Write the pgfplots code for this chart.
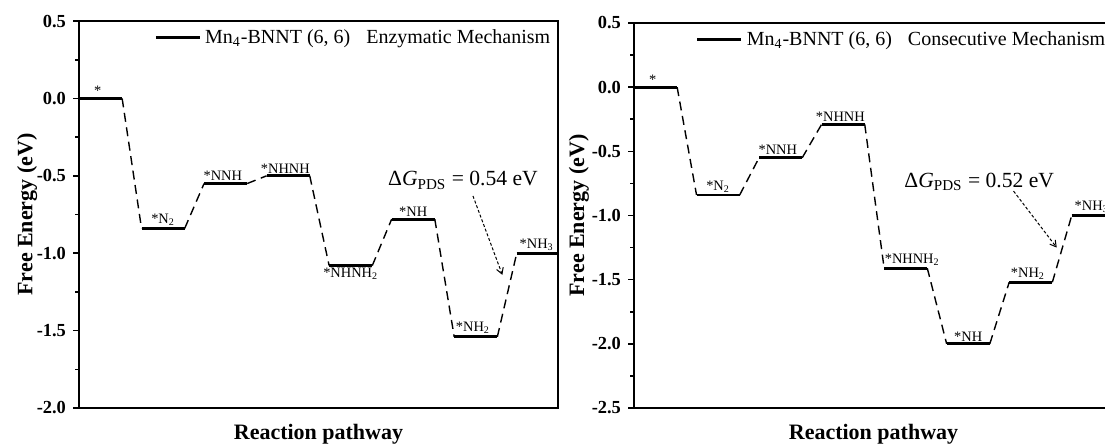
\documentclass[border=0pt]{standalone}
\usepackage{fontspec}
\setmainfont{Liberation Serif}
\usepackage{pgfplots}
\pgfplotsset{compat=1.18}
\usetikzlibrary{arrows.meta}
\begin{document}
\begin{tikzpicture}
\tikzset{
  lab/.style={font=\fontsize{7.2}{7.2}\selectfont, inner sep=1.2pt},
  arr/.style={line width=0.5pt, dash pattern=on 1.5pt off 1pt, -{Straight Barb[length=3pt,width=3.5pt]}},
}
\pgfplotsset{
  energy/.style={
    scale only axis, width=239.5pt,
    xmin=0, xmax=7.66,
    xtick=\empty,
    axis line style={line width=1pt},
    minor y tick num=1,
    tick align=outside,
    ytick pos=left,
    major tick length=3pt, minor tick length=2pt,
    every tick/.style={line width=0.8pt, black},
    yticklabel style={/pgf/number format/.cd, fixed, fixed zerofill, precision=1, assume math mode=true, /tikz/.cd, font=\fontsize{9.2}{9.2}\selectfont\bfseries},
    label style={font=\fontsize{11}{11}\selectfont\bfseries},
    xlabel={Reaction pathway},
    ylabel={Free Energy (eV)},
    xlabel style={at={(axis description cs:0.5,0)}, anchor=center, yshift=-13pt},
    legend style={draw=none, fill=none, at={(0.997,0.995)}, anchor=north east, font=\fontsize{10}{10}\selectfont, inner sep=1pt},
    legend image code/.code={\draw[line width=1.3pt] (0pt,0pt) -- (22pt,0pt);},
    legend cell align=left,
  },
  lvl/.style={black, line width=1.4pt, unbounded coords=jump},
  con/.style={black, line width=0.7pt, dash pattern=on 4.5pt off 2.8pt, unbounded coords=jump, forget plot},
}
% ---------------- left panel: enzymatic ----------------
\begin{axis}[energy, at={(39.5pt,19.5pt)}, anchor=south west, height=193.5pt,
  ymin=-2, ymax=0.5, ytick={-2,-1.5,-1,-0.5,0,0.5},
  ylabel style={at={(axis description cs:-0.108,0.5)}, anchor=center}]
\addplot[lvl] coordinates {
 (0,0) (0.69,0) (0.8,nan)
 (1,-0.84) (1.69,-0.84) (1.8,nan)
 (2,-0.55) (2.69,-0.55) (2.8,nan)
 (3,-0.50) (3.69,-0.50) (3.8,nan)
 (4,-1.08) (4.69,-1.08) (4.8,nan)
 (5,-0.78) (5.69,-0.78) (5.8,nan)
 (6,-1.54) (6.69,-1.54) (6.8,nan)
 (7,-1.00) (7.69,-1.00)};
\addlegendentry{Mn\textsubscript{4}-BNNT (6, 6)\hspace{0.8em}Enzymatic Mechanism}
\addplot[con] coordinates {
 (0.69,0) (1,-0.84) (1.2,nan)
 (1.69,-0.84) (2,-0.55) (2.2,nan)
 (2.69,-0.55) (3,-0.50) (3.2,nan)
 (3.69,-0.50) (4,-1.08) (4.2,nan)
 (4.69,-1.08) (5,-0.78) (5.2,nan)
 (5.69,-0.78) (6,-1.54) (6.2,nan)
 (6.69,-1.54) (7,-1.00)};
\node[lab,above] at (axis cs:0.30,0) {*};
\node[lab,above] at (axis cs:1.345,-0.84) {*N\textsubscript{2}};
\node[lab,above] at (axis cs:2.30,-0.55) {*NNH};
\node[lab,above] at (axis cs:3.30,-0.50) {*NHNH};
\node[lab,below] at (axis cs:4.345,-1.08) {*NHNH\textsubscript{2}};
\node[lab,above] at (axis cs:5.345,-0.78) {*NH};
\node[lab,above] at (axis cs:6.30,-1.54) {*NH\textsubscript{2}};
\node[lab,above] at (axis cs:7.32,-1.00) {*NH\textsubscript{3}};
\node[font=\fontsize{10.8}{10.8}\selectfont] at (axis cs:6.14,-0.53) {Δ\textit{G}\textsubscript{PDS} = 0.54 eV};
\draw[arr] (axis cs:6.30,-0.63) -- (axis cs:6.77,-1.14);
\end{axis}
% ---------------- right panel: consecutive ----------------
\begin{axis}[energy, at={(317pt,19.5pt)}, anchor=south west, height=192.5pt,
  ymin=-2.5, ymax=0.5, ytick={-2.5,-2,-1.5,-1,-0.5,0,0.5},
  ylabel style={at={(axis description cs:-0.115,0.5)}, anchor=center}]
\addplot[lvl] coordinates {
 (0,0) (0.69,0) (0.8,nan)
 (1,-0.84) (1.69,-0.84) (1.8,nan)
 (2,-0.55) (2.69,-0.55) (2.8,nan)
 (3,-0.29) (3.69,-0.29) (3.8,nan)
 (4,-1.41) (4.69,-1.41) (4.8,nan)
 (5,-2.00) (5.69,-2.00) (5.8,nan)
 (6,-1.52) (6.69,-1.52) (6.8,nan)
 (7,-1.00) (7.69,-1.00)};
\addlegendentry{Mn\textsubscript{4}-BNNT (6, 6)\hspace{0.8em}Consecutive Mechanism}
\addplot[con] coordinates {
 (0.69,0) (1,-0.84) (1.2,nan)
 (1.69,-0.84) (2,-0.55) (2.2,nan)
 (2.69,-0.55) (3,-0.29) (3.2,nan)
 (3.69,-0.29) (4,-1.41) (4.2,nan)
 (4.69,-1.41) (5,-2.00) (5.2,nan)
 (5.69,-2.00) (6,-1.52) (6.2,nan)
 (6.69,-1.52) (7,-1.00)};
\node[lab,above] at (axis cs:0.30,0) {*};
\node[lab,above] at (axis cs:1.345,-0.84) {*N\textsubscript{2}};
\node[lab,above] at (axis cs:2.30,-0.55) {*NNH};
\node[lab,above] at (axis cs:3.30,-0.29) {*NHNH};
\node[lab,above] at (axis cs:4.45,-1.41) {*NHNH\textsubscript{2}};
\node[lab,above] at (axis cs:5.345,-2.00) {*NH};
\node[lab,above] at (axis cs:6.30,-1.52) {*NH\textsubscript{2}};
\node[lab,above] at (axis cs:7.32,-1.00) {*NH\textsubscript{3}};
\node[font=\fontsize{10.8}{10.8}\selectfont] at (axis cs:5.52,-0.74) {Δ\textit{G}\textsubscript{PDS} = 0.52 eV};
\draw[arr] (axis cs:6.07,-0.81) -- (axis cs:6.76,-1.25);
\end{axis}
\pgfresetboundingbox
\path[use as bounding box] (0pt,0pt) rectangle (552.5pt,223.5pt);
\end{tikzpicture}
\end{document}
